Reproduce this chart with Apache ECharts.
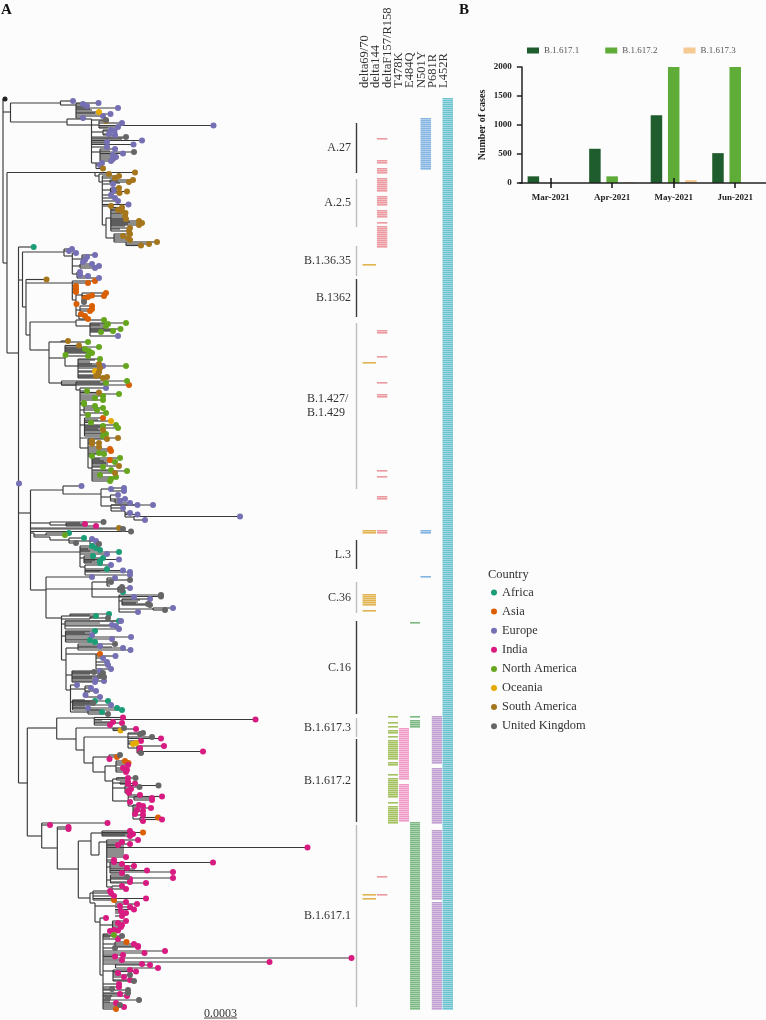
<!DOCTYPE html>
<html><head><meta charset="utf-8">
<style>html,body{margin:0;padding:0;background:#fcfcfc}#c{width:766px;height:1020px}</style>
<script src="https://cdn.jsdelivr.net/npm/echarts@6/dist/echarts.min.js"></script>
</head><body><div id="c"></div>
<script>
// region codes
const AF=0,AS=1,EU=2,IN=3,NA=4,OC=5,SA=6,UK=7,RT=8,NO=-1;
const regions=['Africa','Asia','Europe','India','North America','Oceania','South America','United Kingdom'];
const months=['Mar-2021','Apr-2021','May-2021','Jun-2021'];
const b16171=[115,590,1170,515];
const b16172=[0,115,2000,2000];
const b16173=[0,15,50,0];
const lineages=['B.1.617.1','B.1.617.2','B.1.617.3'];
const mutationLabels=['delta69/70','delta144','deltaF157/R158','T478K','E484Q','N501Y','P681R','L452R'];
// presence runs per mutation column, [first row, last row]
const rowsDelta6970=[[264,264],[362,362],[530,532],[594,602],[604,604],[610,610],[894,894],[898,898]];
const rowsDelta144=[[138,138],[160,162],[168,172],[178,190],[196,198],[200,204],[210,216],[222,222],[226,246],[330,332],[356,356],[382,382],[394,396],[470,470],[476,476],[496,498],[530,532],[876,876],[894,894]];
const rowsT478K=[[716,716],[722,722],[726,726],[730,732],[736,736],[740,758],[762,764],[774,774],[778,796],[802,802],[806,822]];
const rowsF157=[[728,778],[784,820]];
const rowsE484Q=[[622,622],[716,716],[720,726],[822,878],[880,1008]];
const rowsN501Y=[[118,168],[530,532],[576,576]];
const rowsP681R=[[716,762],[768,822],[830,898],[902,1008]];
const rowsL452R=[[98,1008]];
const clades=[
 ['A.27',123,173,1],['A.2.5',179,227,0],['B.1.36.35',246,276,0],['B.1362',279,317,1],
 ['B.1.427/\nB.1.429',323,489,0],['L.3',540,569,1],['C.36',582,613,0],['C.16',621,714,1],
 ['B.1.617.3',718,737,0],['B.1.617.2',739,822,1],['B.1.617.1',825,1007,0]];
const scaleBar=[204,237];
// tree: each node is [parent x, x, y, tips], a tip is [x, y, region]
const trunk=[
 [3,3,180,[[5,99,RT]]],
 [3,10.5,112,[]],
 [3,7,263,[]],
 [7,18.5,353,[[33.7,247,AF],[19,483.5,EU]]],
 [18.5,22.5,280,[]],
 [22.5,26,307,[[46.5,279.5,SA]]],
 [26,30,335,[]],
 [30,33.5,350,[]],
 [18.5,30.5,513,[[119,528,SA],[123,529,UK],[131,531.5,UK]]],
 [30.5,46,590,[[92,577,EU]]],
 [18.5,27.3,783,[]],
 [27.3,56.7,728,[]],
 [27.3,41.7,836,[[107.5,823,IN],[50,825,IN]]],
 [41.7,57.3,848,[[68.5,827,IN],[68.5,829,IN]]],
 [57.3,78.3,869,[]]];
const cladeA27=[
 [10.5,60.5,103,[[73,101,EU]]],
 [60.5,76,105,[[83,104,EU],[87,106,EU],[98.5,103,EU],[88,107,NO],[118,108,EU],[90,109,NO],[92,110,NO],[99,112,OC],[95,113,NO],[110.5,114,EU],[103,116,EU],[83,118,EU]]],
 [10.5,67,122,[]],
 [67,99,125,[[106,121,SA],[122,123,EU],[118,127,EU],[213.5,125.5,EU],[108,128,NO]]],
 [67,91.5,119,[[106,120,UK],[126,137,UK],[124,138,NO],[122,139,NO],[142,140.5,EU],[107,142,EU],[105,143,NO],[133.5,144.5,EU],[107,147,EU]]],
 [91.5,103,132,[[111,130,EU],[114.5,131,EU],[109,134,EU],[115,135,EU]]],
 [91.5,100,152,[[115,149,EU],[134,152,UK],[110,151,NO],[123,153.5,EU],[113,155,EU],[116,157,EU],[113,159,EU],[111,161,EU]]],
 [91.5,96,163,[[102,163,EU],[100,165,EU],[103,168.5,SA]]]];
const cladeA25=[
 [7,95,172.5,[[135,172.5,SA]]],
 [95,99,176,[[109,174,SA]]],
 [99,102.3,182,[[119,176,SA],[115,178,SA],[113,184,EU],[111,195,EU],[115,198,EU],[118,201,EU],[128.5,204.5,EU],[111,206,SA]]],
 [102.3,110,181,[[133,180,SA],[129,182,SA],[118,181,NO],[120,183,NO]]],
 [102.3,110.5,190,[[119,188,SA],[114,190,EU],[127,191.5,SA],[119.5,193,SA]]],
 [102.3,106,225,[]],
 [106,110.8,218,[[122,207.5,SA],[118,210,SA],[122,211,SA],[125.5,213,SA],[125,216,SA],[126,219,SA],[139,221,SA],[142,223,SA],[139,225,SA],[130,228,SA],[129,231,SA],[118,209,NO],[122,214,NO],[125,218,NO],[128,220,NO],[130,222,NO],[128,224,NO],[125,226,NO],[120,229,NO]]],
 [106,114,238,[[130,234,SA],[123,236,SA],[128,238,SA],[130,240,SA]]],
 [114,126,242,[[157,242,SA],[149,244,SA],[141,245.5,SA]]]];
const cladeB13635=[
 [22.5,64,252,[[69,251,EU],[72,249,EU]]],
 [64,72.3,256,[[76,253,EU]]],
 [72.3,82,259,[[95,255,EU],[87,257,EU],[85,260,EU],[83,262,EU]]],
 [72.3,80,266,[[92,264,EU],[99,266,EU],[95,268,EU]]],
 [72.3,77,274,[[80,272,EU],[80,275,EU],[88,276,EU],[99,278,EU]]]];
const cladeB1362=[
 [26,72.3,283,[[95,281,AS],[88,283,AS],[76,286,AS],[76,289,AS],[76,292,AS]]],
 [72.3,76,300,[[76.5,304,AS]]],
 [76,82,295,[[106,293,AS],[104,296,AS],[92,295.5,AS],[88,297,AS],[85,298,AS],[84,302,UK]]],
 [76,80,310,[[92,306,AS],[92,309,AS],[90,311,AS]]],
 [76,79,316,[[81,314,AS],[85,316,AS],[88,319,AS]]]];
const cladeEarlyNA=[
 [30,76,322,[[104,320,NA]]],
 [76,90,326,[[108,324,NA],[126,323,NA],[106,326,NA],[120.5,329,NA],[100,325,NO],[105,328,NO],[113,330,NO],[113,331,NA],[101,332,NA],[118,336,EU]]]];
const cladeB1427=[
 [33.5,49,350,[]],
 [49,61,342,[[68,341,SA],[88,342,NA]]],
 [49,65,358,[[79,345.5,SA],[99,347,NA],[65.5,355,NA],[85,349,NA],[89,351,NA],[92,353,NA],[84,348,NO],[88,350,NO],[90,352,NO],[88,356,NA]]],
 [65,78,366,[[100,359,NA],[95,360,NO],[126,366,NA],[103,366,EU],[99,364,SA],[90,362,NO],[92,364,NO],[100,368,SA],[95,371,OC],[99,372,SA],[98,375,SA],[96,376,SA],[103,378,SA],[107,377,SA]]],
 [49,61.5,383,[[127,381,NA],[129,385,AS],[106,383,NA]]],
 [61.5,76,385,[[100,382,NO],[104,384,NO]]],
 [76,80,390,[[106,388,EU],[87,391,NA],[99,392.5,SA],[119,394,NA],[103,396,NA],[103,400,NA],[95,398,NA],[84,403,NA],[84,404,NA],[88,415,NA],[118,438,SA]]],
 [80,84,410,[[95,406,NA],[97,410,NA],[103,408,NA],[106,413,NA]]],
 [80,84.5,425,[[103,418,AS],[111,421,OC],[91,422.5,NA],[116,425,NA],[118,428,NA],[103,426,NA],[103,430,SA],[104,433,NA],[106,434,NA],[103,436,NA],[98,420,NO],[100,427,NO],[98,429,NO],[100,431,NO]]],
 [80,88,448,[[107,439,SA],[92,441,SA],[92,444,SA],[99,443,SA],[99,447,SA],[110,449,AS],[111,451,AS],[99,453,NA],[104,454,NA],[92,456,NA]]],
 [88,92,468,[[120,458,NA],[110,460,AS],[115,462,NA],[100,459,NO],[104,461,NO],[106,463,NO],[108,464,NO],[119,466,SA],[103,467,NA],[111,470,NA],[127,471,NA],[115,473,SA],[100,475,NA],[116,477,NA],[111,479,NA],[110,481,NA]]]];
const cladeEuropeA=[
 [30.5,63,490,[[81.5,486,EU]]],
 [63,101,494,[]],
 [101,110,489,[[111,489,EU],[124,488,EU],[124,491,EU]]],
 [101,110.5,497,[[118,495,EU],[120,501,EU]]],
 [110.5,115,499,[[125,499,EU],[130,503,EU]]],
 [101,111,506,[[137.5,505,EU],[153,505,EU],[123,508,EU]]],
 [111,125,511,[[130,513,EU],[137.5,514.5,EU]]],
 [125,134,517,[[240,516.5,EU],[145,520,EU]]]];
const cladeMidIndia=[
 [30.5,50,523,[[103.5,522,UK]]],
 [50,66,525,[[85,524,IN],[96,526,IN],[80,523,NO],[83,525,NO]]]];
const cladeMidAfrica=[
 [30.5,34,533,[]],
 [34,46,535,[[65,535,NA],[69,533,AF]]],
 [34,50,537,[]],
 [50,69,540,[[84,538,AF],[76,543,UK]]],
 [69,90,541,[[92,539,EU],[96,541,EU],[99,544,UK]]]];
const cladeL3=[
 [30.5,80,552,[[92,546,AF],[96,548,AF],[100,550,AF],[88,549,NO],[90,551,NO],[107,554,EU],[119,552,AF]]],
 [80,84,558,[[93,556,AF],[103,558,AF],[119,559.5,EU],[100,561,AF],[100,563,AF],[95,560,NO],[92,562,NO]]],
 [80,85,567,[[111,565,EU],[107,569,AF],[123,570.5,EU],[130,572,EU],[130,575,EU],[100,571,NO]]]];
const cladeC36=[
 [46,92,589,[]],
 [92,107,582,[[115,578,EU],[130,580,UK],[111,582,UK],[109,584,NO],[110,586,NO]]],
 [92,118,589,[[130,588,EU],[122,587,UK],[122,590,UK],[123,592,AF]]],
 [92,119,597,[[161,595,UK],[161,596.5,UK],[134,597,EU],[138,612,EU]]],
 [119,122,601,[[150,599,EU],[148,604,UK],[150,605,UK],[140,600,NO],[138,602,NO],[136,603,NO]]],
 [119,153,609,[[173,608,EU],[165,610,UK]]]];
const cladeC16=[
 [46,61.5,618,[]],
 [61.5,70,616,[[96,616,AF],[109,614,AF],[90,615,NO]]],
 [61.5,90,619,[[108,618,UK],[95,617,NO]]],
 [61.5,65,624,[[121,621,EU],[119,621,AF],[112,625,EU],[116,626,EU],[119,629,EU],[100,623,NO]]],
 [61.5,65.5,636,[[95,631,AF],[92,635,EU],[90,632,NO],[91,634,NO],[85,633,NO],[131,637,EU],[112,639,EU],[90,640,AF],[95,642,AF]]],
 [61.5,66,660,[]],
 [66,78,648,[[115,644,UK],[100,646,EU],[123,648,EU],[130.5,650,EU],[112,647,NO]]],
 [66,96,654,[[100,654,AS],[115.5,656,EU],[103,658,EU],[107,662,EU],[108,665,EU],[111,669,EU]]],
 [66,72,675,[[100,671,EU],[94,672,UK],[103,673,UK],[100,676,UK],[96,679,EU],[104,677,UK],[104,681,EU],[95,682,EU],[90,674,NO],[92,678,NO]]],
 [66,70.5,690,[[77,685,EU]]],
 [70.5,85,689,[[96,691,EU],[91,688,EU],[85.5,695,EU],[100,697,EU],[92,686,NO],[90,692,NO]]],
 [70.5,72.5,702,[[108,701,AF],[95,701,AF],[93,703,UK],[111,705,EU],[88,708,EU],[117,708,AF],[122,710,AF],[85,700,NO],[90,702,NO],[92,704,NO],[85,706,NO]]],
 [70.5,88,712,[[102,712,AF],[108,714,UK],[100,710,NO]]]];
const cladeB16173=[
 [56.7,94.3,718,[[255.5,719.5,IN],[123,717.5,IN],[113,722,IN],[122,723,IN],[110,725,IN],[102,720,NO]]]];
const cladeB16172=[
 [56.7,76,739,[]],
 [76,113,728,[[136,729,IN],[124,728,UK],[120.5,730.5,OC]]],
 [76,84,750,[]],
 [84,128,737,[[143,733,UK],[140,734,UK],[152,737,UK],[161,738.5,IN],[141,741,IN],[136,743,OC],[133,744,OC]]],
 [128,137,748,[[164,746,IN],[140,748,IN],[140,751,IN],[203,751.5,IN],[141,753,UK]]],
 [84,93,763,[]],
 [93,109,757,[[120,755,UK],[117,757,AS],[109.5,759,IN]]],
 [93,105,772,[]],
 [105,116,766,[[125,761,AS],[128.5,763,AS],[128,765,IN],[123,768,IN],[127,770,IN],[126,772,IN]]],
 [105,112.7,781,[]],
 [112.7,116.5,779,[[128,778,IN],[135.5,778,UK],[128,780,NO]]],
 [112.7,120,783,[[128,782,IN],[128,784,IN],[135,783.5,IN]]],
 [112.7,125,788,[[158.5,785.5,UK],[139.5,787,UK],[131,789,IN],[128,791,IN],[129,793,IN]]],
 [112.7,128.2,801,[[140,795,IN],[130,802,IN]]],
 [128.2,134,797,[[162,796.5,IN],[152,798,IN],[152,800,IN]]],
 [128.2,133,806,[[139,805,IN],[143,806,IN],[151,808,IN],[137,810,IN],[143,811,IN],[143,815,IN],[135,814,IN]]],
 [133,140,819,[[158,817.5,AS],[162,819.5,IN],[143,821,IN]]]];
const cladeB16171=[
 [78.3,91,841,[]],
 [91,102,833,[[130,831,IN],[143,832.5,AS],[133,834,IN],[130,836,IN],[128,833,NO],[125,835,NO]]],
 [91,99,855,[]],
 [99,106.7,842,[[138,840,IN],[122,842,IN],[130,844,IN],[118,845,IN],[307.5,847.5,IN],[124,846,NO],[124,849,NO],[124,851,NO],[124,853,NO],[124,855,NO],[126,857,IN],[114,860,IN],[114,862,IN]]],
 [106.7,110,867,[[122,864,IN],[213,862.5,IN],[134,866,IN],[127,868,IN],[147,870.5,IN],[122,873,IN],[173,872,IN],[135,869,NO]]],
 [106.7,110.5,880,[[173,878,IN],[130,879,IN],[127,877,UK],[130,882,IN],[146,883,IN],[125,875,NO]]],
 [106.7,112,887,[[122,886,IN],[126,889,IN]]],
 [78.3,90,898,[]],
 [90,93,893,[[110,891,IN],[111,893,IN],[114,896,IN],[146,898.5,IN],[114,900,AS]]],
 [90,95,903,[]],
 [95,115,906,[[126,902,IN],[137,904,IN],[120,906,IN],[130,907,IN],[134,909.5,IN],[126,913,IN],[121,911,IN],[122,916,IN]]],
 [95,100,922,[[106,918,IN]]],
 [100,112.5,925,[[126,921,IN],[118,923,IN],[122,925,IN],[121,927,IN],[114,930,IN],[118,930.5,IN],[110,931,IN]]],
 [100,103,975,[[114,935,NA],[122,936,UK],[108,934,NO],[110,937,NO],[118,939,IN],[115,948,UK],[165,951,IN],[144.5,953,IN],[123,955,IN],[115,956.5,IN],[351.5,958,IN],[122,960,IN],[269.5,962,IN],[119,984,IN],[119,987,IN],[112,989,UK],[128,990,UK],[128,993,UK],[120,994,IN],[127,996,IN],[108,998,UK],[139,1000,UK],[112,996,NO],[110,1000,NO],[110,1002,NO],[116,1003,IN],[120,1005,UK],[124,1007,IN],[116,1009,AS]]],
 [103,115,944,[[126.5,942,AS],[134,944,IN],[138,946,IN],[138,947,IN]]],
 [103,115.5,964,[[142,964,IN],[150,965,IN],[158,968,IN]]],
 [103,113,971,[[130,970,IN],[136,971.5,IN],[118,973,IN],[130,975,UK],[124,977,IN],[130,980,IN],[134,981,UK]]]];
const cladeLists=[cladeA27,cladeA25,cladeB13635,cladeB1362,cladeEarlyNA,cladeB1427,cladeEuropeA,cladeMidIndia,cladeMidAfrica,cladeL3,cladeC36,cladeC16,cladeB16173,cladeB16172,cladeB16171];

// ------- style constants
const SERIF='"Liberation Serif",serif', INK='#333';
const regionColors=['#1b9e77','#d95f02','#7570b3','#d81b80','#66a61e','#e6ab02','#a6761d','#666666','#222222'];
const heatCols=[
 {rows:rowsDelta6970,x0:362.5,x1:376,color:'#dca52d'},{rows:rowsDelta144,x0:377,x1:387.3,color:'#e8868c'},
 {rows:rowsT478K,x0:388,x1:398,color:'#93b53f'},{rows:rowsF157,x0:399,x1:409,color:'#ec86ba'},
 {rows:rowsE484Q,x0:410,x1:420,color:'#5fa968'},{rows:rowsN501Y,x0:420.5,x1:431,color:'#6aa5dc'},
 {rows:rowsP681R,x0:431.8,x1:442,color:'#b289c6'},{rows:rowsL452R,x0:442.5,x1:453,color:'#4db6c6'}];

// ------- build marks
const segs=[],tips=regionColors.map(()=>[]);
function collect(list,outer){
 const stems=new Map();
 list.forEach(([px,x,y,t])=>{stems.set(x,[y,...t.map(q=>q[1])]);});
 list.forEach(([px,x,y,t])=>{
  if(px!==x){const s=stems.get(px)||(outer&&outer.get(px));if(s)s.push(y);}
  segs.push([px,y,x,y]);
  t.forEach(([tx,ty,r])=>{segs.push([x,ty,tx,ty]);if(r>=0)tips[r].push([tx,ty]);});
 });
 return stems;
}
const trunkMap=collect(trunk,null);
const localMaps=cladeLists.map(l=>collect(l,trunkMap));
[trunkMap,...localMaps].forEach(m=>m.forEach((ys,x)=>segs.push([x,Math.min(...ys),x,Math.max(...ys)])));

const heatData=[];
heatCols.forEach((c,i)=>c.rows.forEach(([a,b])=>{for(let r=a;r<=b;r+=2)heatData.push([i,r]);}));

const coordTree={xAxisIndex:0,yAxisIndex:0};
const series=[
 {type:'custom',...coordTree,silent:true,animation:false,data:segs,z:2,clip:false,
  renderItem:(p,api)=>{const a=api.coord([api.value(0),api.value(1)]),b=api.coord([api.value(2),api.value(3)]);
   return {type:'line',shape:{x1:a[0],y1:a[1],x2:b[0],y2:b[1]},style:{stroke:'#3a3a3a',lineWidth:1.15}};}},
 ...regions.map((name,i)=>({type:'scatter',name,...coordTree,data:tips[i],symbolSize:6,silent:true,animation:false,z:3,
   itemStyle:{color:regionColors[i],opacity:1}})),
 {type:'scatter',name:'Root',...coordTree,data:tips[RT],symbolSize:5,silent:true,animation:false,z:3,itemStyle:{color:regionColors[RT],opacity:1}},
 {type:'custom',...coordTree,silent:true,animation:false,data:heatData,z:2,
  renderItem:(p,api)=>{const c=heatCols[api.value(0)],r=api.value(1);
   const a=api.coord([c.x0,r]),b=api.coord([c.x1,r]);
   return {type:'rect',shape:{x:a[0],y:a[1]+0.1,width:b[0]-a[0],height:1.45},style:{fill:c.color,opacity:0.92}};}},
 {type:'custom',...coordTree,silent:true,animation:false,z:2,data:clades.map((c,i)=>[i,c[1],c[2]]),
  renderItem:(p,api)=>{const c=clades[api.value(0)],a=api.coord([356.5,api.value(1)]),b=api.coord([356.5,api.value(2)]);
   const two=c[0].includes('\n');
   return {type:'group',children:[
    {type:'line',shape:{x1:a[0],y1:a[1],x2:b[0],y2:b[1]},style:{stroke:c[3]?'#3c3c3c':'#bdbdbd',lineWidth:1.4}},
    {type:'text',style:{text:c[0],x:two?307:351,y:(a[1]+b[1])/2,align:two?'left':'right',verticalAlign:'middle',
      font:'12px '+SERIF,fill:INK,lineHeight:14.5}}]};}},
 {type:'custom',...coordTree,silent:true,animation:false,z:2,data:[[scaleBar[0],scaleBar[1]]],
  renderItem:(p,api)=>{const a=api.coord([api.value(0),1018]),b=api.coord([api.value(1),1018]);
   return {type:'group',children:[
    {type:'line',shape:{x1:a[0],y1:a[1],x2:b[0],y2:b[1]},style:{stroke:INK,lineWidth:0.9}},
    {type:'text',style:{text:'0.0003',x:(a[0]+b[0])/2,y:a[1]+2,align:'center',verticalAlign:'bottom',font:'12px '+SERIF,fill:INK}}]};}},
 {type:'bar',name:lineages[0],xAxisIndex:2,yAxisIndex:2,data:b16171,barWidth:11.5,barGap:'50%',animation:false,itemStyle:{color:'#1f5c2e'},z:2},
 {type:'bar',name:lineages[1],xAxisIndex:2,yAxisIndex:2,data:b16172,barWidth:11.5,barGap:'50%',animation:false,itemStyle:{color:'#5fac38'},z:2},
 {type:'bar',name:lineages[2],xAxisIndex:2,yAxisIndex:2,data:b16173,barWidth:11.5,barGap:'50%',animation:false,itemStyle:{color:'#f5c992'},z:2}
];
const hidden={show:false};
const chart=echarts.init(document.getElementById('c'),null,{renderer:'canvas'});
chart.setOption({
 backgroundColor:'#fcfcfc',animation:false,
 textStyle:{fontFamily:SERIF},
 grid:[{left:0,top:0,width:766,height:1020},{left:358.8,top:90,width:91,height:1},{left:519.85,top:67,width:249.2,height:116}],
 xAxis:[
  {type:'value',gridIndex:0,min:0,max:766,...hidden},
  {type:'category',gridIndex:1,position:'top',data:mutationLabels,axisLine:hidden,axisTick:hidden,
   axisLabel:{rotate:90,interval:0,fontSize:12.5,color:INK,margin:2,fontFamily:SERIF}},
  {type:'category',gridIndex:2,position:'bottom',data:months,z:6,axisLine:{show:true,onZero:false,lineStyle:{color:'#222',width:1.5}},
   axisTick:{show:true,alignWithLabel:true,length:5,lineStyle:{color:'#111',width:1.5}},
   axisLabel:{interval:0,fontSize:9,fontWeight:'bold',color:'#222',margin:10,fontFamily:SERIF}},
  {type:'category',gridIndex:2,position:'bottom',data:months,z:6,axisLine:hidden,
   axisTick:{show:true,inside:true,alignWithLabel:true,length:5,lineStyle:{color:'#111',width:1.5}},axisLabel:hidden}],
 yAxis:[
  {type:'value',gridIndex:0,min:0,max:1020,inverse:true,...hidden},
  {type:'value',gridIndex:1,...hidden},
  {type:'value',gridIndex:2,min:0,max:2000,interval:500,offset:-2,splitLine:hidden,name:'Number of cases',nameLocation:'middle',nameGap:34,
   nameTextStyle:{fontSize:10,fontWeight:'bold',color:'#222',fontFamily:SERIF},
   axisLine:{show:true,onZero:false,lineStyle:{color:'#222',width:1.5}},axisTick:{show:true,length:5,lineStyle:{color:'#222',width:1.5}},
   axisLabel:{fontSize:9,fontWeight:'bold',color:'#222',margin:10,fontFamily:SERIF,formatter:v=>String(v)}}],
 legend:[
  {orient:'vertical',left:491,top:586.5,data:regions.map(name=>({name,icon:'circle'})),itemWidth:6,itemHeight:6,itemGap:7.1,selectedMode:false,
   textStyle:{fontSize:12.4,color:INK,fontFamily:SERIF},padding:0},
  {orient:'horizontal',left:527,top:46,data:lineages,itemWidth:12,itemHeight:6,itemGap:26,selectedMode:false,
   textStyle:{fontSize:9,color:'#555',fontFamily:SERIF},padding:0,icon:'rect'}],
 graphic:[
  {type:'text',left:1,top:3,style:{text:'A',font:'bold 15px '+SERIF,fill:'#111'}},
  {type:'text',left:459,top:3,style:{text:'B',font:'bold 15px '+SERIF,fill:'#111'}},
  {type:'text',left:488,top:569,style:{text:'Country',font:'12.4px '+SERIF,fill:INK}}],
 series
});
</script></body></html>
